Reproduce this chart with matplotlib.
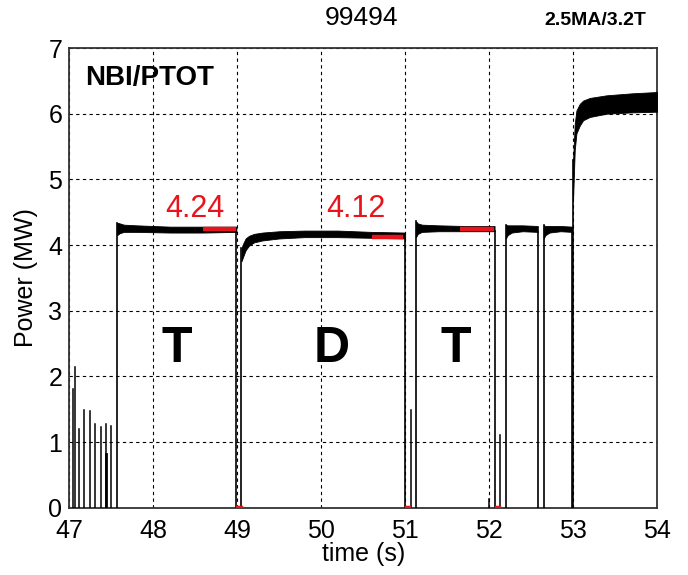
import matplotlib
matplotlib.use("Agg")
import matplotlib.pyplot as plt

plt.rcParams['font.family'] = ['Liberation Sans', 'DejaVu Sans']

# ---- data ----
# short pre-heating spikes (time, peak MW)
spike_t = [47.04, 47.07, 47.115, 47.18, 47.25, 47.31, 47.375, 47.44, 47.50, 51.075, 52.0, 52.13]
spike_h = [1.81, 2.15, 1.20, 1.49, 1.48, 1.28, 1.23, 1.28, 1.25, 1.49, 0.14, 1.11]
thick_spike_t = [47.435]
thick_spike_h = [0.82]

# plateaus: time points with upper / lower envelopes of the noisy trace
p1_t = [47.57, 47.60, 47.65, 47.8, 48.2, 48.6, 48.99]
p1_up = [4.34, 4.33, 4.31, 4.30, 4.28, 4.28, 4.28]
p1_lo = [4.15, 4.18, 4.20, 4.20, 4.19, 4.19, 4.20]

p2_t = [49.05, 49.07, 49.10, 49.14, 49.2, 49.3, 49.5, 49.8, 50.2, 50.6, 51.0]
p2_up = [3.95, 4.02, 4.10, 4.14, 4.17, 4.19, 4.21, 4.22, 4.22, 4.20, 4.19]
p2_lo = [3.75, 3.82, 3.92, 3.99, 4.04, 4.07, 4.10, 4.12, 4.12, 4.11, 4.10]

p3_t = [51.13, 51.15, 51.2, 51.4, 51.7, 52.065]
p3_up = [4.36, 4.33, 4.31, 4.30, 4.29, 4.29]
p3_lo = [4.12, 4.17, 4.20, 4.21, 4.21, 4.21]

p4_t = [52.20, 52.22, 52.27, 52.4, 52.58]
p4_up = [4.31, 4.30, 4.30, 4.30, 4.29]
p4_lo = [4.10, 4.15, 4.19, 4.21, 4.20]

p5_t = [52.65, 52.67, 52.72, 52.85, 52.99]
p5_up = [4.30, 4.29, 4.29, 4.29, 4.28]
p5_lo = [4.10, 4.15, 4.19, 4.21, 4.20]

p6_t = [53.0, 53.02, 53.04, 53.08, 53.12, 53.2, 53.4, 53.7, 54.0]
p6_up = [5.30, 5.85, 6.05, 6.15, 6.20, 6.24, 6.28, 6.31, 6.33]
p6_lo = [4.70, 5.45, 5.70, 5.82, 5.90, 5.95, 6.00, 6.02, 6.03]

plateaus = [(p1_t, p1_up, p1_lo), (p2_t, p2_up, p2_lo), (p3_t, p3_up, p3_lo),
            (p4_t, p4_up, p4_lo), (p5_t, p5_up, p5_lo), (p6_t, p6_up, p6_lo)]

# averaged power markers (start, end, value) and labels
avg_start = [48.59, 50.60, 51.65]
avg_end = [48.98, 50.98, 52.06]
avg_val = [4.24, 4.12, 4.24]
avg_labels = ["4.24", "4.12"]
avg_label_t = [48.14, 50.06]

# small red marks on the zero line
zero_mark_t = [49.02, 51.03, 52.10]

phase_labels = ["T", "D", "T"]
phase_t = [48.28, 50.12, 51.60]

xticks = [47, 48, 49, 50, 51, 52, 53, 54]
yticks = [0, 1, 2, 3, 4, 5, 6, 7]

# ---- figure ----
fig = plt.figure(figsize=(6.88, 5.75), dpi=100)
ax = fig.add_axes([0.1007, 0.117, 0.8543, 0.7995])
ax.set_xlim(47, 54)
ax.set_ylim(0, 7)

red = '#e8141c'

for t, h in zip(spike_t, spike_h):
    ax.plot([t, t], [0, h], color='black', lw=1.1, zorder=3)
for t, h in zip(thick_spike_t, thick_spike_h):
    ax.plot([t, t], [0, h], color='black', lw=2.0, zorder=3)

for (t, up, lo) in plateaus:
    ax.fill_between(t, lo, up, color='black', lw=0.6, edgecolor='black', zorder=3)
    # rising edge
    ax.plot([t[0], t[0]], [0, up[0]], color='black', lw=1.2, zorder=3)
    # falling edge
    if t[-1] < 54:
        ax.plot([t[-1], t[-1]], [0, lo[-1]], color='black', lw=1.2, zorder=3)

for s, e, v in zip(avg_start, avg_end, avg_val):
    ax.plot([s, e], [v, v], color=red, lw=3.2, solid_capstyle='butt', zorder=4)
for s in zero_mark_t:
    ax.plot([s - 0.02, s + 0.02], [0.01, 0.01], color=red, lw=2.5, zorder=4)

for lab, t in zip(avg_labels, avg_label_t):
    ax.text(t, 4.43, lab, color=red, fontsize=22, ha='left', va='baseline', zorder=5)

for lab, t in zip(phase_labels, phase_t):
    ax.text(t, 2.225, lab, color='black', fontsize=36, fontweight='bold',
            ha='center', va='baseline', zorder=5)

ax.text(0.0267, 0.9195, "NBI/PTOT", transform=ax.transAxes, fontsize=20,
        fontweight='bold', ha='left', va='baseline', zorder=5)

ax.set_xticks(xticks)
ax.set_yticks(yticks)
ax.tick_params(axis='both', length=0, labelsize=18)
ax.tick_params(axis='x', pad=8)
ax.tick_params(axis='y', pad=5)
ax.grid(True, color='black', linestyle=(0, (3, 3)), lw=0.8)
ax.set_axisbelow(True)
for sp in ax.spines.values():
    sp.set_linewidth(1.3)
    sp.set_color('#333333')

ax.set_xlabel("time (s)", fontsize=18)
ax.xaxis.set_label_coords(0.5, -0.0746)
ax.set_ylabel("Power (MW)", fontsize=18)
ax.yaxis.set_label_coords(-0.074, 0.5)
ax.yaxis.label.set_verticalalignment('center')

fig.text(0.525, 0.969, "99494", fontsize=19, ha='center', va='center')
fig.text(0.94, 0.965, "2.5MA/3.2T", fontsize=14, fontweight='bold', ha='right', va='center')

fig.savefig("out.png", dpi=100)
